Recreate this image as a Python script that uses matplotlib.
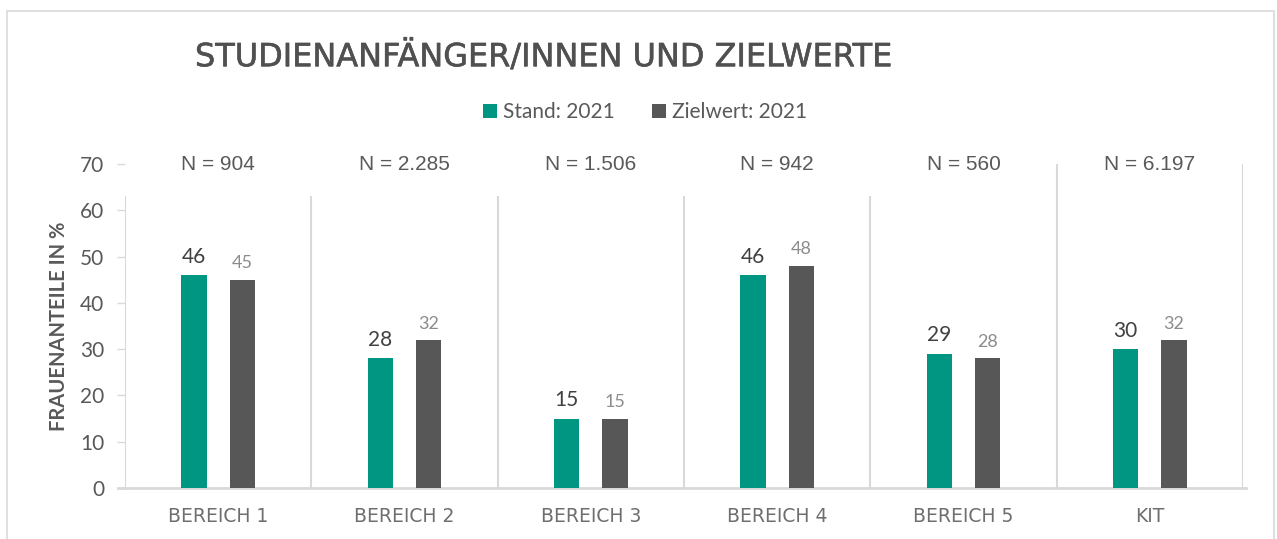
import matplotlib
matplotlib.use("Agg")
import matplotlib.pyplot as plt
import matplotlib.patheffects as pe
from matplotlib.patches import Rectangle
import numpy as np

# data
categories = ["BEREICH 1", "BEREICH 2", "BEREICH 3", "BEREICH 4", "BEREICH 5", "KIT"]
n_labels = ["N = 904", "N = 2.285", "N = 1.506", "N = 942", "N = 560", "N = 6.197"]
stand_2021 = [46, 28, 15, 46, 29, 30]
zielwert_2021 = [45, 32, 15, 48, 28, 32]
yticks = [0, 10, 20, 30, 40, 50, 60, 70]

TEAL = "#009682"
GREY = "#575757"
LINE = "#d9d9d9"
TEXT = "#595959"

plt.rcParams["font.family"] = ["Lato", "DejaVu Sans"]

W, H = 1277, 539
fig = plt.figure(figsize=(W / 100, H / 100), dpi=100)

# light frame around the chart
fig.patches.append(Rectangle((7 / W, -0.1), (1274 - 7) / W, 1.1 - 11 / H,
                             transform=fig.transFigure, fill=False,
                             edgecolor=LINE, linewidth=1.2))

ax = fig.add_axes([125 / W, (H - 488) / H, (1243 - 125) / W, (488 - 164) / H])

x = np.arange(len(categories))
offset, width = 0.13, 0.135
b1 = ax.bar(x - offset, stand_2021, width, color=TEAL, label="Stand: 2021", zorder=3)
b2 = ax.bar(x + offset, zielwert_2021, width, color=GREY, label="Zielwert: 2021", zorder=3)

for rect, v in zip(b1, stand_2021):
    ax.annotate(str(v), (rect.get_x() + rect.get_width() / 2, v), xytext=(0, 6),
                textcoords="offset points", ha="center", va="bottom",
                fontsize=15, color="#404040")
for rect, v in zip(b2, zielwert_2021):
    ax.annotate(str(v), (rect.get_x() + rect.get_width() / 2, v), xytext=(0, 6),
                textcoords="offset points", ha="center", va="bottom",
                fontsize=13, color="#8c8c8c")

ax.set_xlim(-0.5, len(categories) - 0.5)
ax.set_ylim(0, 70)
for s in ax.spines.values():
    s.set_visible(False)

# separators between the groups (top part hidden behind the N labels, like the original)
ax.vlines(-0.5, 0, 63, color=LINE, lw=1.5, zorder=1)
for i in range(1, len(categories)):
    top = 70 if i == len(categories) - 1 else 63
    ax.vlines(i - 0.5, 0, top, color=LINE, lw=1.5, zorder=1)
ax.vlines(len(categories) - 0.5, 0, 70, color=LINE, lw=1.5, zorder=1)
ax.axhline(0, xmin=-0.006, xmax=1.003, color=LINE, lw=2, zorder=2, clip_on=False)

ax.set_yticks(yticks)
ax.set_yticklabels([str(t) for t in yticks], fontsize=15, color=TEXT)
ax.tick_params(axis="y", length=6, width=1, color=LINE, pad=9)
ax.set_xticks(x)
ax.set_xticklabels(categories, fontsize=13.5, color="#6e6e6e", family="DejaVu Sans")
ax.tick_params(axis="x", length=0, pad=14)

ax.set_ylabel("FRAUENANTEILE IN %", fontsize=14.5, fontweight="bold", color=TEXT, labelpad=8)

for i, n in enumerate(n_labels):
    ax.text(i, 70, n, ha="center", va="center", fontsize=15,
            family="Liberation Sans", color=TEXT)

fig.text(195 / W, 1 - 57 / H, "STUDIENANFÄNGER/INNEN UND ZIELWERTE", ha="left",
         va="center", fontsize=23, family="DejaVu Sans", color="#505050",
         path_effects=[pe.withStroke(linewidth=0.4, foreground="#505050")])

fig.legend(handles=[b1, b2], loc="center", bbox_to_anchor=(645 / W, 1 - 112 / H),
           ncol=2, frameon=False, fontsize=15, handlelength=0.65, handleheight=0.65,
           handletextpad=0.3, columnspacing=1.8, labelcolor=TEXT)

fig.savefig("out.png", dpi=100)
